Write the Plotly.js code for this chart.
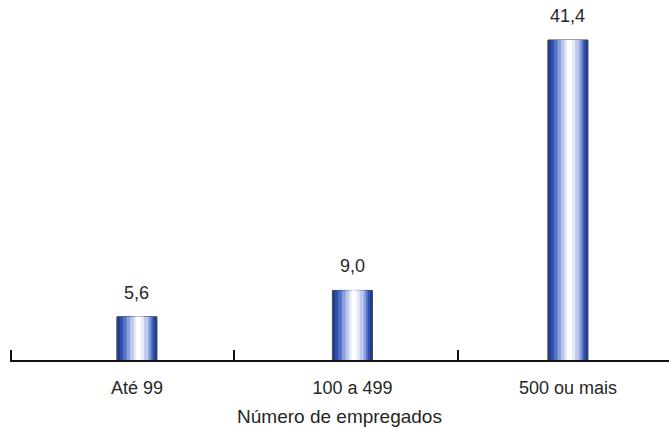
<!DOCTYPE html>
<html>
<head>
<meta charset="utf-8">
<script src="https://cdn.plot.ly/plotly-3.0.1.min.js"></script>
<style>
  html, body { margin: 0; padding: 0; background: #ffffff; }
  #chart { width: 669px; height: 427px; }
</style>
</head>
<body>
<div id="chart"></div>
<script>
// Categories and values (percent)
const categories = ['Até 99', '100 a 499', '500 ou mais'];
const values = [5.6, 9.0, 41.4];
const axisTitle = 'Número de empregados';

// Visible x range (category units) and the positions of the axis tick marks
const xRange = [-0.589, 2.469];
const tickMarks = [-0.583, 0.45, 1.49];

// Cylinder-like shading: stacked bar layers, each a slice [from, to] of the bar width
const barWidth = 0.186;
const shading = [
  { from: 0.00, to: 1.00, color: '#1d3b92' },
  { from: 0.07, to: 0.94, color: '#2f51ad' },
  { from: 0.15, to: 0.89, color: '#5473c4' },
  { from: 0.24, to: 0.84, color: '#8ca0da' },
  { from: 0.33, to: 0.78, color: '#bcc8ee' },
  { from: 0.42, to: 0.68, color: '#e6ebfb' },
  { from: 0.48, to: 0.60, color: '#ffffff' }
];

const font = 'Liberation Sans, Arial, Helvetica, sans-serif';
const textColor = '#262626';

const traces = shading.map((s, i) => ({
  type: 'bar',
  x: categories,
  y: values,
  width: (s.to - s.from) * barWidth,
  offset: -barWidth / 2 + s.from * barWidth,
  marker: {
    color: s.color,
    line: i === 0 ? { color: '#4a4a4a', width: 1 } : { width: 0 }
  },
  hoverinfo: 'skip',
  showlegend: false
}));

// Empty trace so the tick-mark axis gets drawn
traces.push({
  type: 'scatter',
  x: [],
  y: [],
  xaxis: 'x2',
  yaxis: 'y',
  mode: 'markers',
  hoverinfo: 'skip',
  showlegend: false
});

// Value labels above each bar
const annotations = categories.map((c, i) => ({
  x: c,
  y: values[i],
  xref: 'x',
  yref: 'y',
  text: values[i].toFixed(1).replace('.', ','),
  showarrow: false,
  yanchor: 'bottom',
  yshift: 12,
  font: { family: font, size: 18, color: textColor }
}));

const layout = {
  width: 669,
  height: 427,
  margin: { l: 10, r: 0, t: 0, b: 67 },
  paper_bgcolor: '#ffffff',
  plot_bgcolor: '#ffffff',
  barmode: 'overlay',
  xaxis: {
    type: 'category',
    range: xRange,
    showline: true,
    linecolor: '#111111',
    linewidth: 2,
    ticks: '',
    showgrid: false,
    zeroline: false,
    ticklabelstandoff: 10,
    tickfont: { family: font, size: 18, color: textColor },
    title: {
      text: axisTitle,
      standoff: 13,
      font: { family: font, size: 19, color: textColor }
    }
  },
  xaxis2: {
    overlaying: 'x',
    anchor: 'y',
    type: 'linear',
    range: xRange,
    tickmode: 'array',
    tickvals: tickMarks,
    ticks: 'inside',
    ticklen: 10,
    tickwidth: 2,
    tickcolor: '#111111',
    showticklabels: false,
    showgrid: false,
    zeroline: false,
    showline: false,
    side: 'bottom'
  },
  yaxis: {
    range: [0, 46.57],
    visible: false,
    showgrid: false,
    zeroline: false
  },
  annotations: annotations
};

Plotly.newPlot('chart', traces, layout, { staticPlot: true, displayModeBar: false });
</script>
</body>
</html>
